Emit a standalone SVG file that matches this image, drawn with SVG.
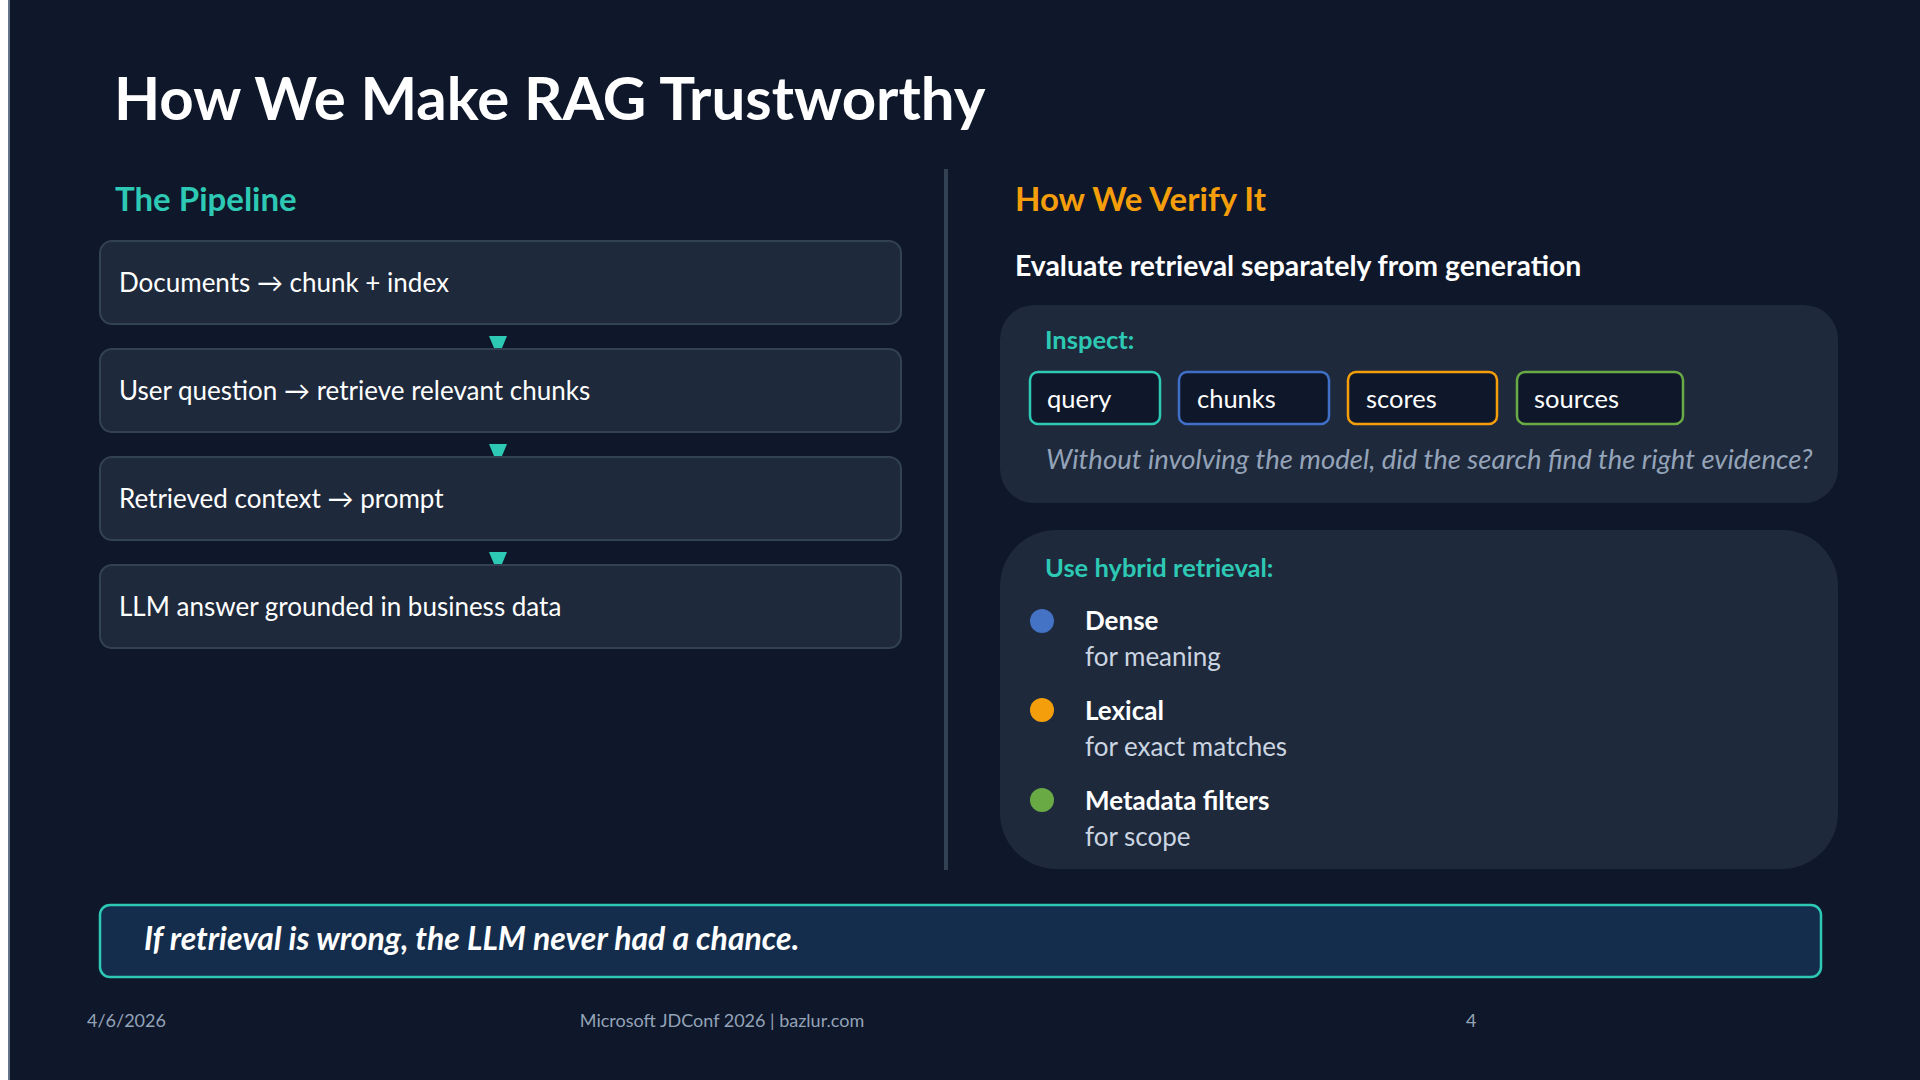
<svg xmlns="http://www.w3.org/2000/svg" width="1920" height="1080" viewBox="0 0 1920 1080">
<defs>
<style>
.t{font-family:Lato,"Open Sans","Liberation Sans",sans-serif}
.title{font-size:60px;font-weight:700;fill:#ffffff}
.h2{font-size:33px;font-weight:700}
.step{fill:#1e293b;stroke:#334155;stroke-width:2}
.steptxt{font-size:26px;fill:#ffffff}
.panel{fill:#1e293b}
.chip{fill:#0f172a;stroke-width:2.5}
.chiptxt{font-size:25.5px;fill:#ffffff}
.lbl{font-size:25.5px;font-weight:700;fill:#2dc9b5}
.item{font-size:26px;font-weight:700;fill:#ffffff}
.sub{font-size:26px;fill:#cbd5e1}
.foot{font-size:18px;fill:#94a3b8}
.arrow{fill:#2dc9b5}
</style>
</defs>
<rect x="0" y="0" width="1920" height="1080" fill="#0f172a"/>
<rect x="0" y="0" width="8" height="1080" fill="#ffffff"/>
<rect x="8" y="0" width="2" height="1080" fill="#64748b"/>

<text class="t title" x="114" y="120">How We Make RAG Trustworthy</text>

<g id="left-header"><text class="t h2" x="115" y="211" fill="#2dc9b5">The Pipeline</text></g>

<g id="step1"><rect class="step" x="100" y="241" width="801" height="83" rx="12"/><text class="t steptxt" x="119" y="292">Documents → chunk + index</text></g>
<g id="step2"><rect class="step" x="100" y="349" width="801" height="83" rx="12"/><text class="t steptxt" x="119" y="400">User question → retrieve relevant chunks</text></g>
<g id="step3"><rect class="step" x="100" y="457" width="801" height="83" rx="12"/><text class="t steptxt" x="119" y="508">Retrieved context → prompt</text></g>
<g id="step4"><rect class="step" x="100" y="565" width="801" height="83" rx="12"/><text class="t steptxt" x="119" y="616">LLM answer grounded in business data</text></g>

<g id="connectors">
<polygon class="arrow" points="489,336 507,336 502,348 494,348"/>
<polygon class="arrow" points="489,444 507,444 502,456 494,456"/>
<polygon class="arrow" points="489,552 507,552 502,564 494,564"/>
</g>

<rect id="divider" x="944" y="169" width="4" height="701" fill="#334155"/>

<g id="right-header">
<text class="t h2" x="1015" y="211" fill="#f59e0b">How We Verify It</text>
<text class="t" x="1015" y="276" font-size="28.4" font-weight="700" fill="#ffffff">Evaluate retrieval separately from generation</text>
</g>

<g id="inspect">
<rect class="panel" x="1000" y="305" width="838" height="198" rx="34"/>
<text class="t lbl" x="1045" y="349">Inspect:</text>
<g id="chip-query"><rect class="chip" x="1030" y="372" width="130" height="52" rx="8" stroke="#2dc9b5"/><text class="t chiptxt" x="1047" y="408">query</text></g>
<g id="chip-chunks"><rect class="chip" x="1179" y="372" width="150" height="52" rx="8" stroke="#3f6fc7"/><text class="t chiptxt" x="1197" y="408">chunks</text></g>
<g id="chip-scores"><rect class="chip" x="1348" y="372" width="149" height="52" rx="8" stroke="#f59e0b"/><text class="t chiptxt" x="1366" y="408">scores</text></g>
<g id="chip-sources"><rect class="chip" x="1517" y="372" width="166" height="52" rx="8" stroke="#6aaa45"/><text class="t chiptxt" x="1534" y="408">sources</text></g>
<text class="t" x="1046" y="469" font-size="27.5" font-style="italic" fill="#94a3b8">Without involving the model, did the search find the right evidence?</text>
</g>

<g id="hybrid">
<rect class="panel" x="1000" y="530" width="838" height="339" rx="56"/>
<text class="t lbl" x="1045" y="577">Use hybrid retrieval:</text>
<g id="dense"><circle cx="1042" cy="621" r="12" fill="#4472c4"/><text class="t item" x="1085" y="630">Dense</text><text class="t sub" x="1085" y="666">for meaning</text></g>
<g id="lexical"><circle cx="1042" cy="710" r="12" fill="#f59e0b"/><text class="t item" x="1085" y="720">Lexical</text><text class="t sub" x="1085" y="756">for exact matches</text></g>
<g id="metadata"><circle cx="1042" cy="800" r="12" fill="#6aaa45"/><text class="t item" x="1085" y="810">Metadata filters</text><text class="t sub" x="1085" y="846">for scope</text></g>
</g>

<g id="callout">
<rect x="100" y="905" width="1721" height="72" rx="10" fill="#142d4c" stroke="#2dc9b5" stroke-width="2.5"/>
<text class="t" x="144" y="950" font-size="32" font-weight="700" font-style="italic" fill="#ffffff">If retrieval is wrong, the LLM never had a chance.</text>
</g>

<g id="footer">
<text class="t foot" x="87" y="1027">4/6/2026</text>
<text class="t foot" x="722" y="1027" text-anchor="middle">Microsoft JDConf 2026 | bazlur.com</text>
<text class="t foot" x="1466" y="1027" fill="#ffffff">4</text>
</g>
</svg>
